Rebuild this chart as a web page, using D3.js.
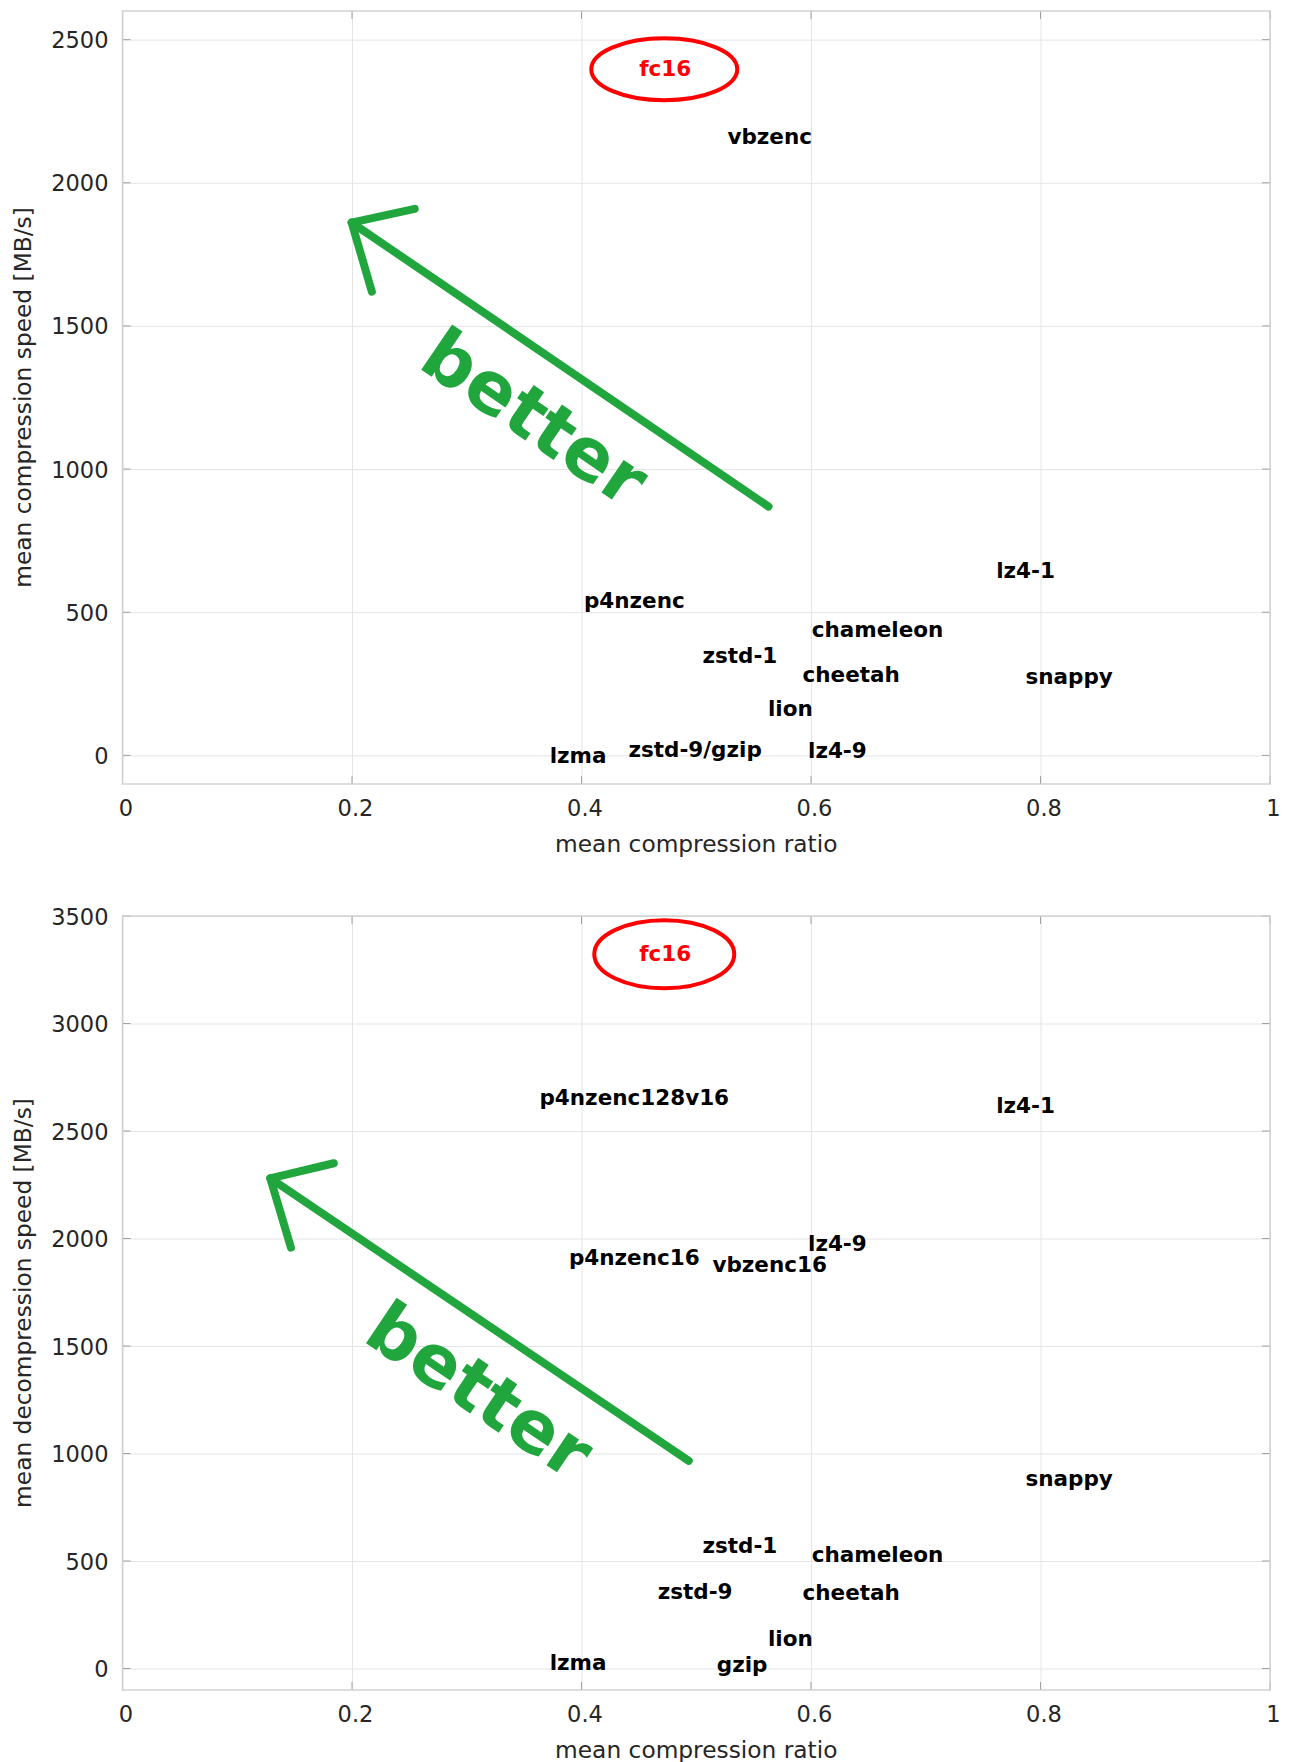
<!DOCTYPE html>
<html>
<head>
<meta charset="utf-8">
<script src="https://cdn.jsdelivr.net/npm/d3@7"></script>
<style>
  html, body { margin: 0; padding: 0; background: #ffffff; }
  svg { display: block; }
  text { font-family: "DejaVu Sans", sans-serif; }
</style>
</head>
<body>
<svg id="chart" width="1296" height="1762"></svg>
<script>
// ---- shared axis ----
const ratioTicks = [0, 0.2, 0.4, 0.6, 0.8, 1];
const ratioDomain = [0, 1];

// ---- compression panel ----
const compTicks = [0, 500, 1000, 1500, 2000, 2500];
const compDomain = [-100, 2600];
const compNames = ["fc16", "vbzenc", "lz4-1", "p4nzenc", "chameleon", "zstd-1",
                   "cheetah", "snappy", "lion", "zstd-9/gzip", "lz4-9", "lzma"];
const compRatio = [0.473, 0.564, 0.787, 0.446, 0.658, 0.538,
                   0.635, 0.825, 0.582, 0.499, 0.623, 0.397];
const compSpeed = [2400, 2161, 645, 540, 438, 348,
                   284, 274, 164, 21, 18, 0];
// arrow: head polyline (arm, tip, arm) and shaft (tip, tail), in data units
const compArrowHead = [[0.2546, 1909], [0.1997, 1861], [0.2173, 1620]];
const compArrowShaft = [[0.1997, 1861], [0.563, 869]];
const compBetterAt = [0.3595, 1182];

// ---- decompression panel ----
const decompTicks = [0, 500, 1000, 1500, 2000, 2500, 3000, 3500];
const decompDomain = [-100, 3500];
const decompNames = ["fc16", "p4nzenc128v16", "lz4-1", "lz4-9", "p4nzenc16", "vbzenc16",
                     "snappy", "zstd-1", "chameleon", "zstd-9", "cheetah", "lion", "gzip", "lzma"];
const decompRatio = [0.473, 0.446, 0.787, 0.623, 0.446, 0.564,
                     0.825, 0.538, 0.658, 0.499, 0.635, 0.582, 0.540, 0.397];
const decompSpeed = [3327, 2655, 2618, 1975, 1911, 1877,
                     885, 571, 529, 358, 353, 141, 20, 28];
const decompArrowHead = [[0.1841, 2350], [0.1288, 2280], [0.1468, 1958]];
const decompArrowShaft = [[0.1288, 2280], [0.4935, 966]];
const decompBetterAt = [0.3115, 1296];

const highlight = "fc16";

const svg = d3.select("#chart");
svg.append("rect").attr("width", 1296).attr("height", 1762).attr("fill", "#ffffff");

const plotLeft = 122.5, plotRight = 1270;
const GREEN = "#21a63e", RED = "#ff0000", INK = "#262626";

function drawPanel(cfg) {
  const x = d3.scaleLinear().domain(ratioDomain).range([plotLeft, plotRight]);
  const y = d3.scaleLinear().domain(cfg.domain).range([cfg.bottom, cfg.top]);
  const g = svg.append("g");

  // grid lines
  g.append("g")
    .attr("transform", `translate(0,${cfg.bottom})`)
    .call(d3.axisBottom(x).tickValues(ratioTicks).tickSize(-(cfg.bottom - cfg.top)).tickFormat(""))
    .call(a => a.select(".domain").remove())
    .call(a => a.selectAll("line").attr("stroke", "#e4e4e4").attr("stroke-width", 1));
  g.append("g")
    .attr("transform", `translate(${plotLeft},0)`)
    .call(d3.axisLeft(y).tickValues(cfg.ticks).tickSize(-(plotRight - plotLeft)).tickFormat(""))
    .call(a => a.select(".domain").remove())
    .call(a => a.selectAll("line").attr("stroke", "#e4e4e4").attr("stroke-width", 1));

  // inward tick marks on all four sides
  const tk = 8;
  const tg = g.append("g").attr("stroke", "#a0a0a0").attr("stroke-width", 1);
  ratioTicks.forEach(t => {
    tg.append("line").attr("x1", x(t)).attr("x2", x(t)).attr("y1", cfg.bottom).attr("y2", cfg.bottom - tk);
    tg.append("line").attr("x1", x(t)).attr("x2", x(t)).attr("y1", cfg.top).attr("y2", cfg.top + tk);
  });
  cfg.ticks.forEach(t => {
    tg.append("line").attr("y1", y(t)).attr("y2", y(t)).attr("x1", plotLeft).attr("x2", plotLeft + tk);
    tg.append("line").attr("y1", y(t)).attr("y2", y(t)).attr("x1", plotRight).attr("x2", plotRight - tk);
  });

  // frame
  g.append("rect")
    .attr("x", plotLeft).attr("y", cfg.top)
    .attr("width", plotRight - plotLeft).attr("height", cfg.bottom - cfg.top)
    .attr("fill", "none").attr("stroke", "#cfcfcf").attr("stroke-width", 1.4);

  // tick labels
  g.append("g")
    .attr("transform", `translate(3,${cfg.bottom})`)
    .call(d3.axisBottom(x).tickValues(ratioTicks).tickSize(0).tickPadding(16).tickFormat(d => String(d)))
    .call(a => a.select(".domain").remove())
    .call(a => a.selectAll("text").attr("fill", INK).style("font-size", "22.5px")
      .attr("dy", null).attr("y", 24).attr("dominant-baseline", "central"));
  g.append("g")
    .attr("transform", `translate(${plotLeft},0)`)
    .call(d3.axisLeft(y).tickValues(cfg.ticks).tickSize(0).tickPadding(14).tickFormat(d => String(d)))
    .call(a => a.select(".domain").remove())
    .call(a => a.selectAll("text").attr("fill", INK).style("font-size", "22.5px")
      .attr("dy", null).attr("dominant-baseline", "central"));

  // axis titles
  g.append("text")
    .attr("x", (plotLeft + plotRight) / 2).attr("y", cfg.bottom + 59)
    .attr("text-anchor", "middle").attr("dominant-baseline", "central")
    .attr("fill", INK).style("font-size", "23.3px")
    .text("mean compression ratio");
  g.append("text")
    .attr("transform", `translate(22,${(cfg.top + cfg.bottom) / 2}) rotate(-90)`)
    .attr("text-anchor", "middle").attr("dominant-baseline", "central")
    .attr("fill", INK).style("font-size", "23.3px")
    .text(cfg.yTitle);

  // "better" arrow
  const line = d3.line().x(d => x(d[0])).y(d => y(d[1]));
  const ag = g.append("g").attr("fill", "none").attr("stroke", GREEN)
    .attr("stroke-width", 8).attr("stroke-linecap", "round").attr("stroke-linejoin", "round");
  ag.append("path").attr("d", line(cfg.arrowShaft));
  ag.append("path").attr("d", line(cfg.arrowHead));
  const s0 = cfg.arrowShaft[0], s1 = cfg.arrowShaft[1];
  const angle = Math.atan2(y(s1[1]) - y(s0[1]), x(s1[0]) - x(s0[0])) * 180 / Math.PI;
  g.append("text")
    .attr("transform", `translate(${x(cfg.betterAt[0])},${y(cfg.betterAt[1])}) rotate(${angle})`)
    .attr("text-anchor", "middle").attr("dominant-baseline", "central")
    .attr("fill", GREEN).style("font-size", "72px").style("font-weight", "bold")
    .text("better");

  // compressor labels
  const rows = cfg.names.map((n, i) => ({ name: n, r: cfg.ratio[i], s: cfg.speed[i] }));
  const lg = g.append("g");
  lg.selectAll("text").data(rows).join("text")
    .attr("x", d => x(d.r)).attr("y", d => y(d.s))
    .attr("text-anchor", "middle").attr("dominant-baseline", "central")
    .attr("fill", d => d.name === highlight ? RED : "#000000")
    .style("font-size", "21.5px").style("font-weight", "bold")
    .text(d => d.name);

  // highlight ring
  rows.filter(d => d.name === highlight).forEach(d => {
    g.append("ellipse")
      .attr("cx", x(d.r) - 1).attr("cy", y(d.s) + 1)
      .attr("rx", cfg.ring[0]).attr("ry", cfg.ring[1])
      .attr("fill", "none").attr("stroke", RED).attr("stroke-width", 4);
  });
}

drawPanel({
  top: 11, bottom: 784, domain: compDomain, ticks: compTicks,
  yTitle: "mean compression speed [MB/s]",
  names: compNames, ratio: compRatio, speed: compSpeed,
  arrowHead: compArrowHead, arrowShaft: compArrowShaft, betterAt: compBetterAt,
  ring: [73, 31]
});
drawPanel({
  top: 916, bottom: 1690, domain: decompDomain, ticks: decompTicks,
  yTitle: "mean decompression speed [MB/s]",
  names: decompNames, ratio: decompRatio, speed: decompSpeed,
  arrowHead: decompArrowHead, arrowShaft: decompArrowShaft, betterAt: decompBetterAt,
  ring: [70, 34]
});
</script>
</body>
</html>
